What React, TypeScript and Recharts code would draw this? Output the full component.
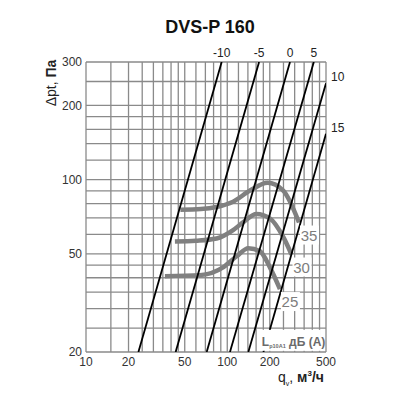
import React from 'react';
import { ComposedChart, Line, XAxis, YAxis, ReferenceLine, ReferenceDot } from 'recharts';

// Grid and tick values
const xGridValues = [10, 15, 20, 25, 30, 35, 40, 45, 50, 60, 70, 80, 90, 100, 120, 140, 160, 180, 200, 250, 300, 350, 400, 450, 500];
const yGridValues = [20, 25, 30, 35, 40, 45, 50, 60, 70, 80, 90, 100, 120, 140, 160, 180, 200, 250, 300];
const xTickValues = [10, 20, 50, 100, 200, 500];
const yTickValues = [20, 50, 100, 200, 300];

// Sound level lines (q in m3/h, p in Pa)
const levelLabels = ['-10', '-5', '0', '5', '10', '15'];
const lineM10 = [{ q: 23.5, p: 20 }, { q: 91.3, p: 300 }];
const lineM5 = [{ q: 43.1, p: 20 }, { q: 168, p: 300 }];
const line0 = [{ q: 71.5, p: 20 }, { q: 278, p: 300 }];
const line5 = [{ q: 104.5, p: 20 }, { q: 410, p: 300 }];
const line10 = [{ q: 141, p: 20 }, { q: 500, p: 246 }];
const line15 = [{ q: 180.4, p: 20 }, { q: 500, p: 153.6 }];

// Fan curves
const fanLabels = ['25', '30', '35'];
const fan25 = [
  { q: 36.2, p: 40.6 }, { q: 64, p: 41 }, { q: 94, p: 44.2 }, { q: 116.5, p: 48.9 },
  { q: 141, p: 52.7 }, { q: 170, p: 51.3 }, { q: 200, p: 44.2 }, { q: 236, p: 36 },
];
const fan30 = [
  { q: 42.6, p: 56.1 }, { q: 60, p: 56.5 }, { q: 84, p: 57.7 }, { q: 110, p: 62.4 },
  { q: 130, p: 67.3 }, { q: 161, p: 72.6 }, { q: 200, p: 69.7 }, { q: 249, p: 58.6 }, { q: 285, p: 49.7 },
];
const fan35 = [
  { q: 46.6, p: 75.5 }, { q: 65, p: 76 }, { q: 84, p: 77.5 }, { q: 110, p: 81.4 },
  { q: 145, p: 90.3 }, { q: 193, p: 97.1 }, { q: 249, p: 90.3 }, { q: 322, p: 67 },
];
const unitLabelAnchor = { q: 282, p: 22.2 };

const levelLines = [lineM10, lineM5, line0, line5, line10, line15];
const fanCurves = [fan25, fan30, fan35];

const FONT = '"Liberation Sans", Arial, Helvetica, sans-serif';

export default function App() {
  return (
    <div style={{ position: 'absolute', left: 0, top: 0, width: 400, height: 400, background: '#fff', fontFamily: FONT }}>
      <div style={{ position: 'absolute', left: 0, width: 420, top: 17, textAlign: 'center', fontSize: 18, fontWeight: 'bold', color: '#111' }}>
        DVS-P 160
      </div>
      <div style={{ position: 'absolute', left: 51, top: 83, transform: 'translate(-50%, -50%) rotate(-90deg)', whiteSpace: 'nowrap', fontSize: 14, color: '#222' }}>
        Δpt, <b>Па</b>
      </div>
      <div style={{ position: 'absolute', left: 278, top: 369, whiteSpace: 'nowrap', fontSize: 14, color: '#222' }}>
        q<sub style={{ fontSize: 7 }}>v</sub>, <b>м<sup style={{ fontSize: 8 }}>3</sup>/ч</b>
      </div>
      <ComposedChart
        width={400}
        height={400}
        margin={{ top: 62, right: 74, bottom: 28, left: 46 }}
        style={{ position: 'absolute', left: 0, top: 0 }}
      >
        <XAxis
          dataKey="q"
          type="number"
          scale="log"
          domain={[10, 500]}
          allowDataOverflow
          ticks={xTickValues}
          interval={0}
          height={20}
          tickLine={false}
          axisLine={false}
          tickSize={0}
          tickMargin={5}
          tick={{ fontSize: 12, fill: '#333', fontFamily: FONT }}
        />
        <YAxis
          dataKey="p"
          type="number"
          scale="log"
          domain={[20, 300]}
          allowDataOverflow
          ticks={yTickValues}
          interval={0}
          width={40}
          tickLine={false}
          axisLine={false}
          tickSize={0}
          tickMargin={4}
          tick={{ fontSize: 12, fill: '#333', fontFamily: FONT }}
        />
        {xGridValues.map((v) => (
          <ReferenceLine key={'gx' + v} x={v} stroke="#8a8a8a" strokeWidth={1.3} />
        ))}
        {yGridValues.map((v) => (
          <ReferenceLine key={'gy' + v} y={v} stroke="#8a8a8a" strokeWidth={1.3} />
        ))}
        {fanCurves.map((d, i) => (
          <Line
            key={'fan' + i}
            data={d}
            dataKey="p"
            type="monotone"
            stroke="#808080"
            strokeWidth={4.5}
            dot={false}
            activeDot={false}
            isAnimationActive={false}
          />
        ))}
        {levelLines.map((d, i) => (
          <Line
            key={'lvl' + i}
            data={d}
            dataKey="p"
            type="linear"
            stroke="#000"
            strokeWidth={1.8}
            dot={false}
            activeDot={false}
            isAnimationActive={false}
          />
        ))}
        {levelLines.map((d, i) => {
          const end = d[d.length - 1];
          const atRight = end.q >= 500;
          return (
            <ReferenceDot
              key={'lvllab' + i}
              x={end.q}
              y={end.p}
              r={0}
              ifOverflow="visible"
              shape={(props: any) => (
                <text
                  x={atRight ? props.cx + 5 : props.cx}
                  y={atRight ? props.cy - 2 : props.cy - 5}
                  textAnchor={atRight ? 'start' : 'middle'}
                  fontSize={12}
                  fill="#222"
                  fontFamily={FONT}
                >
                  {levelLabels[i]}
                </text>
              )}
            />
          );
        })}
        {fanCurves.map((d, i) => {
          const end = d[d.length - 1];
          return (
            <ReferenceDot
              key={'fanlab' + i}
              x={end.q}
              y={end.p}
              r={0}
              ifOverflow="visible"
              shape={(props: any) => (
                <g>
                  <rect x={props.cx + 1} y={props.cy + 3} width={19} height={19} fill="#fff" />
                  <text x={props.cx + 10} y={props.cy + 18} textAnchor="middle" fontSize={15} fill="#7d7d7d" fontFamily={FONT}>
                    {fanLabels[i]}
                  </text>
                </g>
              )}
            />
          );
        })}
        <ReferenceDot
          x={unitLabelAnchor.q}
          y={unitLabelAnchor.p}
          r={0}
          ifOverflow="visible"
          shape={(props: any) => (
            <g>
              <rect x={props.cx - 30} y={props.cy - 11} width={60} height={21} fill="#fff" />
              <text x={props.cx - 29} y={props.cy + 5} fontSize={12} fill="#6a6a6a" fontWeight="bold" fontFamily={FONT}>
                L<tspan fontSize={5.5} dy={2}>p10A1</tspan>
                <tspan dy={-2}> дБ (A)</tspan>
              </text>
            </g>
          )}
        />
      </ComposedChart>
    </div>
  );
}
